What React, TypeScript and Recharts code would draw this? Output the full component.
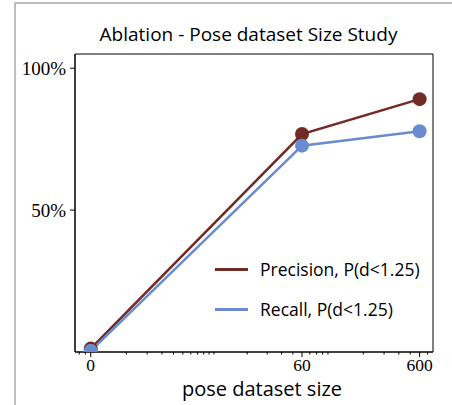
import React from "react";
import { LineChart, Line, XAxis, YAxis, ReferenceArea } from "recharts";

// dataset sizes (x axis is log10(size + 1))
const sizes = [0, 60, 600];
const precision = [0.012, 0.768, 0.891];
const recall = [0.004, 0.727, 0.778];

const majorTicks = [0, 60, 600];
const minorTicks = [
  -0.2, -0.1, 1, 2, 3, 4, 5, 6, 7, 8, 9, 10, 20, 30, 40, 50, 70, 80, 90, 100, 200, 300, 400,
  500, 700,
];
const yTicks = [0.5, 1.0];

const sans = "'Open Sans', 'DejaVu Sans', sans-serif";
const serif = "'Liberation Serif', 'DejaVu Serif', serif";
const PREC = "#722b24";
const REC = "#6a8bd0";

const tx = (v: number) => Math.log10(v + 1);

const data = sizes.map((s, i) => ({
  x: tx(s),
  precision: precision[i],
  recall: recall[i],
}));

const allTicks = [...majorTicks, ...minorTicks].map(tx);
const majorSet = majorTicks.map(tx);

function XTick(props: any) {
  const { x, y, payload } = props;
  const idx = majorSet.findIndex((m) => Math.abs(m - payload.value) < 1e-9);
  const major = idx >= 0;
  return (
    <g>
      <line x1={x} x2={x} y1={y} y2={y + (major ? 5 : 2.5)} stroke="#000" strokeWidth={1} />
      {major && (
        <text x={x} y={y + 19} textAnchor="middle" fontFamily={serif} fontSize={17.5} fill="#000">
          {majorTicks[idx]}
        </text>
      )}
    </g>
  );
}

function LegendBox() {
  const items = [
    { label: "Precision, P(d<1.25)", color: PREC },
    { label: "Recall, P(d<1.25)", color: REC },
  ];
  return (
    <div style={{ position: "absolute", left: 215, top: 249 }}>
      {items.map((it) => (
        <div key={it.label} style={{ display: "flex", alignItems: "center", height: 40 }}>
          <div style={{ width: 33, height: 3, background: it.color, marginRight: 12 }} />
          <span style={{ fontFamily: sans, fontSize: 17.5, color: "#000" }}>{it.label}</span>
        </div>
      ))}
    </div>
  );
}

export default function App() {
  const xDomain = [-0.133, 2.892];
  return (
    <div style={{ position: "absolute", left: 0, top: 0, width: 452, height: 405, background: "#fff" }}>
      <div style={{ position: "absolute", left: 14, top: 2, width: 438, height: 403, borderLeft: "2px solid #bdbdbd", borderTop: "2px solid #bdbdbd" }} />
      <div
        style={{
          position: "absolute",
          left: 0,
          width: 497,
          top: 21,
          textAlign: "center",
          fontFamily: sans,
          fontSize: 19,
          color: "#000",
        }}
      >
        Ablation - Pose dataset Size Study
      </div>
      <LineChart
        width={452}
        height={405}
        data={data}
        margin={{ top: 54, right: 19, bottom: 0, left: 15 }}
      >
        <XAxis
          dataKey="x"
          type="number"
          domain={xDomain}
          ticks={allTicks}
          interval={0}
          tick={<XTick />}
          tickLine={false}
          tickSize={0}
          tickMargin={0}
          axisLine={{ stroke: "#000" }}
          height={53}
          allowDataOverflow
        />
        <YAxis
          type="number"
          domain={[0, 1.05]}
          ticks={yTicks}
          tickFormatter={(v: number) => `${Math.round(v * 100)}%`}
          tick={{ fontFamily: serif, fontSize: 19, fill: "#000" }}
          tickSize={5}
          tickMargin={4}
          tickLine={{ stroke: "#000" }}
          axisLine={{ stroke: "#000" }}
          width={60}
          allowDataOverflow
        />
        <ReferenceArea
          x1={xDomain[0]}
          x2={xDomain[1]}
          y1={0}
          y2={1.05}
          fill="none"
          stroke="#000"
          strokeWidth={1}
          ifOverflow="visible"
        />
        <Line
          dataKey="precision"
          stroke={PREC}
          strokeWidth={2.6}
          dot={{ r: 7, fill: PREC, stroke: "none" }}
          activeDot={false}
          isAnimationActive={false}
        />
        <Line
          dataKey="recall"
          stroke={REC}
          strokeWidth={2.6}
          dot={{ r: 7, fill: REC, stroke: "none" }}
          activeDot={false}
          isAnimationActive={false}
        />
      </LineChart>
      <div
        style={{
          position: "absolute",
          left: 162,
          width: 200,
          top: 380,
          lineHeight: "18px",
          textAlign: "center",
          fontFamily: sans,
          fontSize: 20,
          color: "#000",
        }}
      >
        pose dataset size
      </div>
      <LegendBox />
    </div>
  );
}
